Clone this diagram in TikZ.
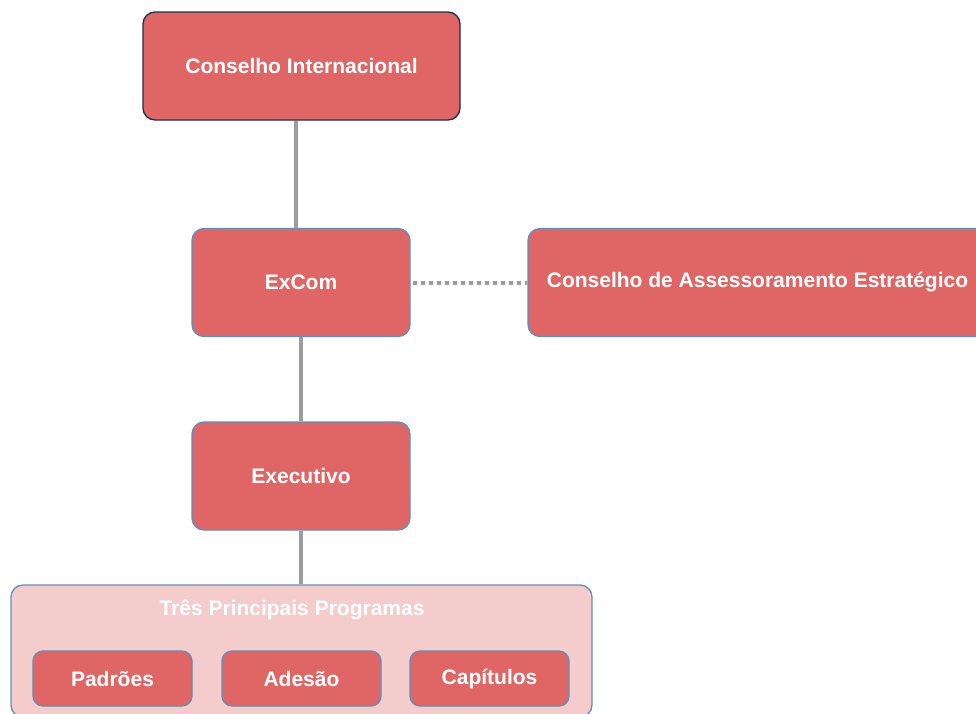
\documentclass[tikz,border=0pt]{standalone}
\usepackage{fontspec}
\setmainfont{Liberation Sans}
\usetikzlibrary{positioning}

\definecolor{boxred}{HTML}{E06666}
\definecolor{boxpink}{HTML}{F4CCCC}
\definecolor{edgeblue}{HTML}{5E8FBF}
\definecolor{edgenavy}{HTML}{1F2D4D}
\definecolor{linkgray}{HTML}{9C9C9C}

\begin{document}
\begin{tikzpicture}[
        x=1pt, y=-1pt,
        unit/.style={
            rectangle,
            rounded corners=12pt,
            draw=edgeblue,
            fill=boxred,
            line width=1.3pt,
            minimum width=218pt,
            minimum height=108pt,
            align=center,
            text=white,
            font=\fontsize{21}{24}\selectfont\bfseries
        },
        program/.style={
            unit,
            rounded corners=10pt,
            minimum width=159pt,
            minimum height=55pt
        },
        group/.style={
            rectangle,
            rounded corners=12pt,
            draw=edgeblue,
            fill=boxpink,
            line width=1.3pt,
            minimum width=581pt,
            minimum height=132pt
        },
        link/.style={
            linkgray,
            line width=4pt
        },
        advice/.style={
            link,
            dash pattern=on 4.5pt off 3.5pt
        }
    ]
    \useasboundingbox (0,0) rectangle (976,713);

    \node[unit, draw=edgenavy, minimum width=317pt] (council) at (301.5,66) {Conselho Internacional};
    \node[unit] (excom) at (301,282.5) {ExCom};
    \node[unit, minimum width=459pt] (advisory) at (757.5,282.5) {Conselho de Assessoramento Estratégico};
    \node[unit] (executive) at (301,476) {Executivo};

    % three programmes
    \node[group] (programs) at (301.5,651) {};
    \node[text=white, font=\fontsize{21}{24}\selectfont\bfseries] (programstitle) at (292,610) {Três Principais Programas};
    \node[program] (standards) at (112.5,678.5) {Padrões};
    \node[program] (membership) at (301.5,678.5) {Adesão};
    \node[program] (chapters) at (489.5,678.5) {Capítulos};

    \draw[link] ([xshift=-5.5pt]council.south) -- ([xshift=-5pt]excom.north);
    \draw[link] (excom) -- (executive);
    \draw[link] (executive.south) -- (executive.south |- programs.north);
    \draw[advice] ([xshift=2pt]excom.east) -- (advisory.west);
\end{tikzpicture}
\end{document}
